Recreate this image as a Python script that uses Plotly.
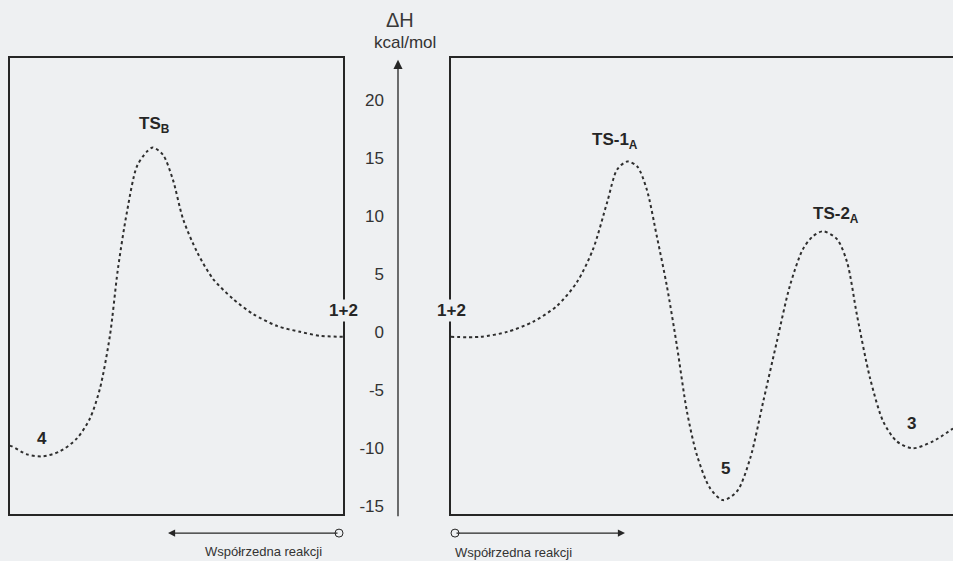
import plotly.graph_objects as go

# ---- data (reaction coordinate 0-100 in each panel, ΔH in kcal/mol) ----
left_x = [0, 0.6, 5.1, 9.9, 15.0, 20.1, 24.0, 27.0, 30.0, 32.4, 35.1, 38.1, 41.1, 42.9,
          45.9, 48.9, 52.0, 56.2, 61.0, 67.0, 73.0, 80.2, 87.1, 93.1, 100]
left_y = [-9.8, -9.86, -10.55, -10.72, -10.29, -9.18, -7.46, -4.89, -0.34, 5.40, 10.29,
          14.24, 15.52, 15.87, 15.27, 13.12, 9.69, 6.86, 4.55, 2.83, 1.54, 0.51, 0.0, -0.34, -0.43]

right_x = [0, 5.8, 11.2, 16.3, 21.1, 25.1, 28.3, 31.1, 33.1, 35.1, 37.1, 39.0, 41.0, 43.0,
           45.0, 47.0, 49.0, 51.6, 54.2, 57.0, 59.6, 62.2, 64.9, 67.5, 70.1, 72.1, 74.1,
           76.9, 78.9, 80.9, 83.5, 86.1, 88.8, 92.0, 96.0, 100]
right_y = [-0.43, -0.43, 0.0, 0.86, 2.23, 4.29, 7.12, 11.15, 13.98, 14.67, 14.24, 12.26,
           8.23, 3.95, -1.20, -6.86, -10.63, -13.46, -14.49, -13.72, -10.89, -6.0, -0.86,
           3.95, 7.12, 8.23, 8.66, 7.98, 6.0, 1.37, -4.03, -7.72, -9.43, -10.03, -9.43, -8.32]

y_ticks = [-15, -10, -5, 0, 5, 10, 15, 20]
y_tick_labels = ["-15", "-10", "-5", "0", "5", "10", "15", "20"]

left_labels = [("TS<sub>B</sub>", 43.5, 17.8), ("4", 9.5, -9.2), ("1+2", 100, 1.8)]
right_labels = [("TS-1<sub>A</sub>", 32.6, 16.4), ("5", 54.6, -11.8), ("TS-2<sub>A</sub>", 76.6, 10.1),
                ("3", 91.8, -7.9), ("1+2", 0, 1.8)]

axis_title = "ΔH"
axis_unit = "kcal/mol"
coord_label = "Współrzedna reakcji"

# ---- layout constants ----
W, H = 953, 561
BG = "#eef0f2"
INK = "#262626"
Y_RANGE = [-15.7, 23.6]


def px(x):
    return x / W


def py(y):
    return 1 - y / H


y_dom = [py(516), py(58)]

fig = go.Figure()

line_style = dict(color="#2e2e2e", width=2, dash="dot", shape="spline", smoothing=0.8)
fig.add_trace(go.Scatter(x=left_x, y=left_y, mode="lines", line=line_style,
                         xaxis="x", yaxis="y", showlegend=False, hoverinfo="skip"))
fig.add_trace(go.Scatter(x=right_x, y=right_y, mode="lines", line=line_style,
                         xaxis="x2", yaxis="y2", showlegend=False, hoverinfo="skip"))

box_axis = dict(showline=True, linecolor=INK, linewidth=1.6, showgrid=False, zeroline=False,
                showticklabels=False, ticks="")

fig.update_layout(
    width=W, height=H,
    margin=dict(l=0, r=0, t=0, b=0),
    paper_bgcolor=BG, plot_bgcolor=BG,
    font=dict(family="Liberation Sans, Arial, sans-serif", color=INK),
    xaxis=dict(domain=[px(10), px(343)], range=[0, 100], anchor="y", mirror=True, **box_axis),
    yaxis=dict(domain=y_dom, range=Y_RANGE, anchor="x", mirror=True, **box_axis),
    xaxis2=dict(domain=[px(451), 1], range=[0, 100], anchor="y2", mirror=True, **box_axis),
    yaxis2=dict(domain=y_dom, range=Y_RANGE, anchor="x2", mirror=False, **box_axis),
    yaxis3=dict(overlaying="y", anchor="free", position=px(398), range=Y_RANGE, side="left",
                tickvals=y_ticks, ticktext=y_tick_labels, showline=False, showgrid=False,
                zeroline=False, ticks="", ticklabelstandoff=14,
                tickfont=dict(size=17, color="#333333")),
)

# invisible trace to activate the central ΔH axis
fig.add_trace(go.Scatter(x=[None], y=[None], xaxis="x", yaxis="y3", showlegend=False,
                         hoverinfo="skip"))

ann = []
for text, x, y in left_labels:
    a = dict(text=f"<b>{text}</b>", x=x, y=y, xref="x", yref="y", showarrow=False,
             xanchor="center", yanchor="middle", font=dict(size=17, color=INK))
    if text == "1+2":
        a.update(bgcolor=BG)
    ann.append(a)
for text, x, y in right_labels:
    a = dict(text=f"<b>{text}</b>", x=x, y=y, xref="x2", yref="y2", showarrow=False,
             xanchor="center", yanchor="middle", font=dict(size=17, color=INK))
    if text == "1+2":
        a.update(bgcolor=BG)
    ann.append(a)

# central ΔH axis with arrow
ann.append(dict(x=px(398), y=py(60), xref="paper", yref="paper", ax=0, ay=458,
                axref="pixel", ayref="pixel", showarrow=True, arrowhead=2, arrowsize=1.4,
                arrowwidth=1.3, arrowcolor=INK, text=""))
ann.append(dict(text=axis_title, x=px(400), y=py(20), xref="paper", yref="paper",
                xanchor="center", yanchor="middle",
                showarrow=False, font=dict(size=20, color="#3a3a3a")))
ann.append(dict(text=axis_unit, x=px(405), y=py(43), xref="paper", yref="paper",
                xanchor="center", yanchor="middle",
                showarrow=False, font=dict(size=17, color="#333333")))

# reaction-coordinate arrows
ann.append(dict(x=px(168), y=py(535), xref="paper", yref="paper", ax=171, ay=0,
                showarrow=True, arrowhead=2, arrowsize=1.3, arrowwidth=1.1,
                arrowcolor=INK, text=""))
ann.append(dict(x=px(625), y=py(535), xref="paper", yref="paper", ax=-170, ay=0,
                showarrow=True, arrowhead=2, arrowsize=1.3, arrowwidth=1.1,
                arrowcolor=INK, text=""))
ann.append(dict(text=coord_label, x=px(263), y=py(553), xref="paper", yref="paper",
                xanchor="center", yanchor="middle",
                showarrow=False, font=dict(size=13, color="#333333")))
ann.append(dict(text=coord_label, x=px(513), y=py(554), xref="paper", yref="paper",
                xanchor="center", yanchor="middle",
                showarrow=False, font=dict(size=13, color="#333333")))
fig.update_layout(annotations=ann)

shapes = []
for cx in (339, 455):
    shapes.append(dict(type="circle", xref="paper", yref="paper",
                       x0=px(cx - 4), x1=px(cx + 4), y0=py(539), y1=py(531),
                       line=dict(color=INK, width=1), fillcolor=BG))
fig.update_layout(shapes=shapes)

fig.write_html(
    "out.html",
    config={"displayModeBar": False},
    post_script="document.body.style.margin='0';document.body.style.background='%s';" % BG,
)
